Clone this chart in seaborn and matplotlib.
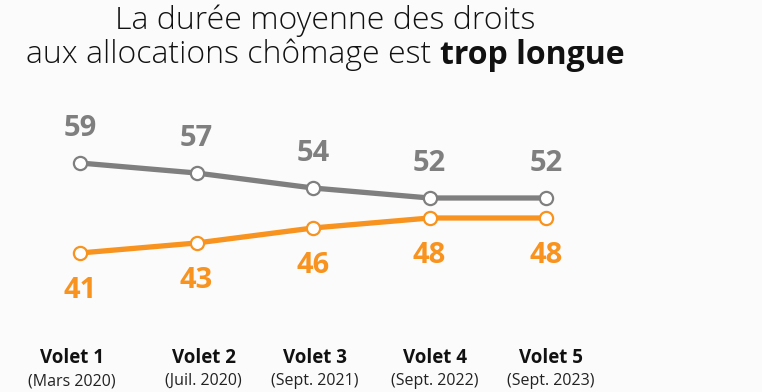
import matplotlib
matplotlib.use("Agg")
import matplotlib.pyplot as plt
import seaborn as sns
import pandas as pd

# Data
volets = ["Volet 1", "Volet 2", "Volet 3", "Volet 4", "Volet 5"]
dates = ["(Mars 2020)", "(Juil. 2020)", "(Sept. 2021)", "(Sept. 2022)", "(Sept. 2023)"]
gris = [59, 57, 54, 52, 52]
orange = [41, 43, 46, 48, 48]

GRAY = "#7f7f7f"
ORANGE = "#f7931e"
BG = "#fbfbfb"
FONT = "Open Sans"

sns.set_theme(style="white")
plt.rcParams["font.family"] = [FONT, "DejaVu Sans"]

df = pd.DataFrame({
    "pos": list(range(len(volets))) * 2,
    "valeur": gris + orange,
    "serie": ["gris"] * len(gris) + ["orange"] * len(orange),
})

fig = plt.figure(figsize=(7.62, 3.92), dpi=100)
fig.patch.set_facecolor(BG)
ax = fig.add_axes([0, 0, 1, 1])
ax.set_facecolor(BG)

sns.lineplot(data=df, x="pos", y="valeur", hue="serie",
             palette={"gris": GRAY, "orange": ORANGE},
             linewidth=3.8, marker="o", markersize=9.5,
             markerfacecolor="white", markeredgewidth=1.6,
             legend=False, ax=ax)
# marker edges follow line colour
for line, col in zip(ax.lines, [GRAY, ORANGE]):
    line.set_markeredgecolor(col)

step = 116.5
ax.set_xlim(-80 / step, (762 - 80) / step)
ax.set_ylim(13.2, 91.6)
ax.axis("off")

# value labels
for i, v in enumerate(gris):
    ax.annotate(str(v), (i, v), xytext=(0, 25), textcoords="offset points",
                ha="center", va="center", fontsize=21, fontweight="bold", color=GRAY)
for i, v in enumerate(orange):
    ax.annotate(str(v), (i, v), xytext=(0, -27), textcoords="offset points",
                ha="center", va="center", fontsize=21, fontweight="bold", color=ORANGE)

# category labels (y given in figure pixels from the bottom)
shift_px = [-8, 7, 2, 5, 5]
for i, (a, b) in enumerate(zip(volets, dates)):
    dx = shift_px[i] * 0.72
    ax.annotate(a, (i, 392 - 358), xycoords=("data", "figure pixels"), xytext=(dx, 0),
                textcoords="offset points", ha="center", va="center",
                fontsize=13.5, fontweight="bold", color="#111111")
    ax.annotate(b, (i, 392 - 381), xycoords=("data", "figure pixels"), xytext=(dx, 0),
                textcoords="offset points", ha="center", va="center",
                fontsize=11.5, color="#222222")

# title
TS = 23
fig.text(325 / 762, 1 - 21 / 392, "La durée moyenne des droits", ha="center", va="center",
         fontsize=TS, color="#111111", fontweight="light")
t1 = fig.text(0, 1 - 55 / 392, "aux allocations chômage est ", ha="left", va="center",
              fontsize=TS, color="#111111", fontweight="light")
t2 = fig.text(0, 1 - 55 / 392, "trop longue", ha="left", va="center",
              fontsize=TS, color="#111111", fontweight="bold")
fig.canvas.draw()
r = fig.canvas.get_renderer()
w1 = t1.get_window_extent(r).width
w2 = t2.get_window_extent(r).width
x0 = 325 - (w1 + w2) / 2
t1.set_x(x0 / 762)
t2.set_x((x0 + w1) / 762)

fig.savefig("out.png", dpi=100, facecolor=BG)
